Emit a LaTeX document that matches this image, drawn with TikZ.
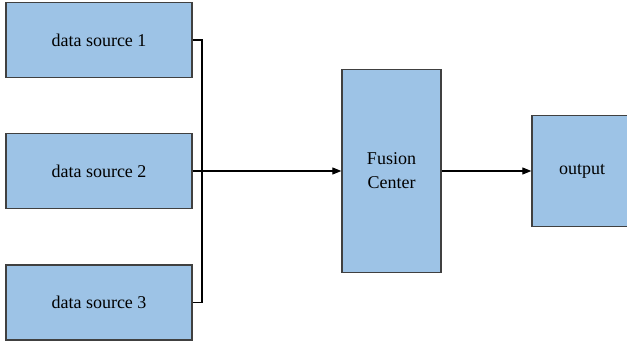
\documentclass[tikz,border=0pt]{standalone}
\usepackage{fontspec}
\setmainfont{Liberation Serif}
\usetikzlibrary{arrows.meta}

\definecolor{boxblue}{HTML}{9DC3E6}
\definecolor{boxline}{HTML}{404040}

\tikzset{
  block/.style={draw=boxline, fill=boxblue, line width=1.3pt, inner sep=0pt,
    font=\fontsize{18}{24}\selectfont, align=center},
  source/.style={block, minimum width=186pt, minimum height=75pt},
  link/.style={line width=1.1pt, -{Triangle[length=9pt,width=7pt]}}
}

\begin{document}
\begin{tikzpicture}[x=1pt,y=-1pt]
  \clip (0,0) rectangle (627,347);
  \fill[white] (0,0) rectangle (627,347);
  % sources
  \node[source] (src1) at (99,40) {data source 1};
  \node[source] (src2) at (99,171) {data source 2};
  \node[source] (src3) at (99,302.5) {data source 3};
  % fusion and output
  \node[block, minimum width=99pt, minimum height=203pt] (fusion) at (391.5,171) {Fusion\\Center};
  \node[block, minimum width=100pt, minimum height=111pt] (out) at (582,171) {output};
  \coordinate (join) at (202,171);
  \draw[line width=1.1pt] (src1.east) -| (join) |- (src3.east);
  \draw[link] (src2.east) -- (fusion.west);
  \draw[link] (fusion.east) -- (out.west);
\end{tikzpicture}
\end{document}
